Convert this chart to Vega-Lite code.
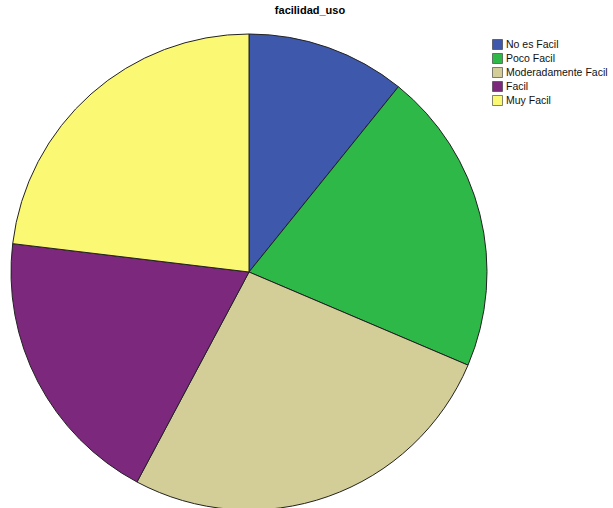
{
  "$schema": "https://vega.github.io/schema/vega-lite/v6.json",
  "autosize": {"type": "none"},
  "width": 498,
  "height": 472,
  "padding": {"top": 36, "left": 0, "right": 115, "bottom": 0},
  "background": "white",
  "title": {
    "text": "facilidad_uso",
    "anchor": "middle",
    "frame": "group",
    "dx": 61,
    "offset": 16,
    "font": "Liberation Sans",
    "fontSize": 11,
    "fontWeight": "bold",
    "color": "#000000"
  },
  "data": {
    "values": [
      {"categoria": "No es Facil", "orden": 1, "porcentaje": 10.8},
      {"categoria": "Poco Facil", "orden": 2, "porcentaje": 20.6},
      {"categoria": "Moderadamente Facil", "orden": 3, "porcentaje": 26.4},
      {"categoria": "Facil", "orden": 4, "porcentaje": 19.1},
      {"categoria": "Muy Facil", "orden": 5, "porcentaje": 23.1}
    ]
  },
  "mark": {"type": "arc", "radius": 238, "stroke": "#222222", "strokeWidth": 1},
  "encoding": {
    "theta": {"field": "porcentaje", "type": "quantitative", "stack": true},
    "order": {"field": "orden", "type": "quantitative"},
    "color": {
      "field": "categoria",
      "type": "nominal",
      "sort": ["No es Facil", "Poco Facil", "Moderadamente Facil", "Facil", "Muy Facil"],
      "scale": {
        "domain": ["No es Facil", "Poco Facil", "Moderadamente Facil", "Facil", "Muy Facil"],
        "range": ["#3E58AC", "#2EB848", "#D3CE97", "#7C287D", "#FBF873"]
      },
      "legend": {
        "title": null,
        "orient": "none",
        "legendX": 492,
        "legendY": 3,
        "symbolType": "square",
        "symbolSize": 100,
        "symbolStrokeColor": "#333333",
        "symbolStrokeWidth": 0.6,
        "symbolOpacity": 1,
        "labelFontSize": 10.5,
        "labelFont": "Liberation Sans",
        "labelColor": "#111111",
        "labelOffset": 3,
        "rowPadding": 1,
        "padding": 0
      }
    }
  },
  "config": {"view": {"stroke": null}}
}
